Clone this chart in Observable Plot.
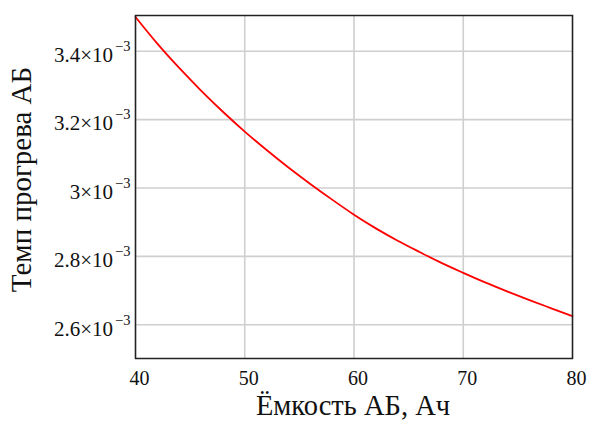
<!DOCTYPE html>
<html>
<head>
<meta charset="utf-8">
<script src="https://cdn.jsdelivr.net/npm/d3@7"></script>
<script src="https://cdn.jsdelivr.net/npm/@observablehq/plot@0.6"></script>
<style>
  html, body { margin: 0; padding: 0; background: #fff; }
  #chart { width: 590px; height: 421px; }
</style>
</head>
<body>
<div id="chart"></div>
<script>
// Ёмкость АБ, Ач (x) and темп прогрева АБ (y)
const capacity = [40, 42, 44, 46, 48, 50, 52, 54, 56, 58, 60, 62, 64, 66, 68, 70, 72, 74, 76, 78, 80];
const heatRate = [3.500e-3, 3.422e-3, 3.351e-3, 3.285e-3, 3.223e-3, 3.165e-3, 3.111e-3, 3.060e-3, 3.012e-3, 2.966e-3,
                  2.922e-3, 2.882e-3, 2.846e-3, 2.813e-3, 2.781e-3, 2.752e-3, 2.724e-3, 2.698e-3, 2.673e-3, 2.649e-3, 2.625e-3];

const xTicks = [40, 50, 60, 70, 80];
const xTickLabels = ["40", "50", "60", "70", "80"];
const yTicks = [2.6e-3, 2.8e-3, 3.0e-3, 3.2e-3, 3.4e-3];
const yTickMantissa = ["2.6", "2.8", "3", "3.2", "3.4"];
const yTickExponent = "−3";

const xTitle = "Ёмкость АБ, Ач";
const yTitle = "Темп прогрева АБ";

const data = capacity.map((c, i) => ({c, r: heatRate[i]}));
const FONT = "'Liberation Serif', 'Times New Roman', serif";

const chart = Plot.plot({
  width: 590,
  height: 421,
  marginLeft: 135,
  marginRight: 18,
  marginTop: 15,
  marginBottom: 63,
  style: {fontFamily: FONT, background: "#fff", color: "#111"},
  x: {domain: [40, 80]},
  y: {domain: [0.0025015, 0.0035044]},
  marks: [
    Plot.gridX(xTicks, {stroke: "#cfcfcf", strokeOpacity: 1, strokeWidth: 1.6}),
    Plot.gridY(yTicks, {stroke: "#cfcfcf", strokeOpacity: 1, strokeWidth: 1.6}),
    Plot.line(data, {x: "c", y: "r", stroke: "#ff0000", strokeWidth: 1.8, curve: "natural"}),
    Plot.frame({stroke: "#222", strokeWidth: 1.5}),
    Plot.axisX(xTicks, {
      tickSize: 0, tickPadding: 12, fontSize: 20, dx: 4, label: null,
      tickFormat: d => xTickLabels[xTicks.indexOf(d)]
    }),
    Plot.axisY(yTicks, {
      tickSize: 0, tickPadding: 5, fontSize: 21, dy: 4, label: null,
      tickFormat: d => yTickMantissa[yTicks.indexOf(d)] + "×10"
    })
  ]
});

const svg = d3.select(chart);
svg.selectAll('g[aria-label="y-axis tick label"] text').each(function() {
  d3.select(this).append("tspan")
    .attr("font-size", 14.5)
    .attr("dy", -11)
    .attr("dx", 2)
    .text(yTickExponent);
});

svg.append("text")
  .attr("x", 353)
  .attr("y", 415)
  .attr("text-anchor", "middle")
  .attr("font-size", 28.5)
  .attr("fill", "#111")
  .text(xTitle);

svg.append("text")
  .attr("transform", "translate(31,179.5) rotate(-90)")
  .attr("text-anchor", "middle")
  .attr("font-size", 29)
  .attr("fill", "#111")
  .text(yTitle);

document.getElementById("chart").appendChild(chart);
</script>
</body>
</html>
